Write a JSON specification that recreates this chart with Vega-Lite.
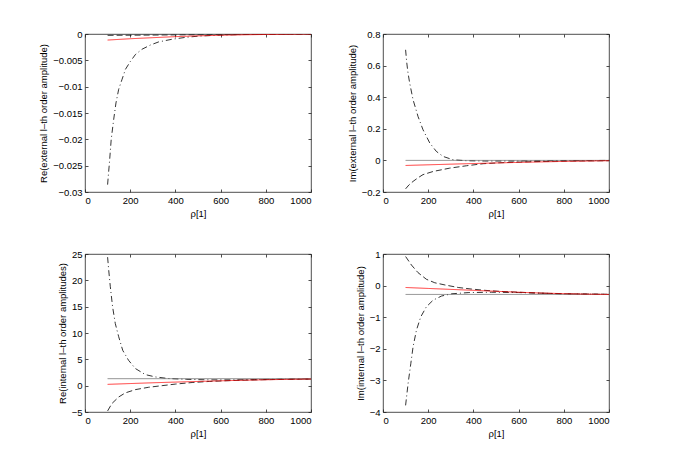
{
 "$schema": "https://vega.github.io/schema/vega-lite/v6.json",
 "background": "white",
 "padding": {"left": 38, "top": 28, "right": 0, "bottom": 0},
 "columns": 2,
 "spacing": {"row": 62, "column": 72},
 "bounds": "flush",
 "datasets": {
  "p1": [
   {"s":"dd","x":100,"y":-0.0286},{"s":"dd","x":104,"y":-0.0265},{"s":"dd","x":108,"y":-0.0245},{"s":"dd","x":116,"y":-0.0200},{"s":"dd","x":127,"y":-0.0162},{"s":"dd","x":137,"y":-0.0131},{"s":"dd","x":149,"y":-0.0105},{"s":"dd","x":164,"y":-0.0086},{"s":"dd","x":179,"y":-0.0067},{"s":"dd","x":201,"y":-0.0052},{"s":"dd","x":223,"y":-0.0039},{"s":"dd","x":252,"y":-0.0029},{"s":"dd","x":289,"y":-0.0021},{"s":"dd","x":326,"y":-0.0015},{"s":"dd","x":385,"y":-0.0010},{"s":"dd","x":443,"y":-0.00065},{"s":"dd","x":503,"y":-0.0004},{"s":"dd","x":600,"y":-0.0002},{"s":"dd","x":700,"y":-0.0001},{"s":"dd","x":850,"y":-0.00004},{"s":"dd","x":1000,"y":0},
   {"s":"d","x":100,"y":-0.00025},{"s":"d","x":300,"y":-0.0002},{"s":"d","x":500,"y":-0.00013},{"s":"d","x":700,"y":-0.00008},{"s":"d","x":1000,"y":-0.00003},
   {"s":"s","x":100,"y":0},{"s":"s","x":1000,"y":0},
   {"s":"r","x":100,"y":-0.00115},{"s":"r","x":200,"y":-0.0009},{"s":"r","x":300,"y":-0.0007},{"s":"r","x":400,"y":-0.0005},{"s":"r","x":500,"y":-0.00035},{"s":"r","x":600,"y":-0.00024},{"s":"r","x":700,"y":-0.00015},{"s":"r","x":800,"y":-0.00009},{"s":"r","x":900,"y":-0.00004},{"s":"r","x":1000,"y":-0.00001}
  ],
  "p2": [
   {"s":"dd","x":100,"y":0.70},{"s":"dd","x":105,"y":0.62},{"s":"dd","x":110,"y":0.56},{"s":"dd","x":118,"y":0.49},{"s":"dd","x":133,"y":0.384},{"s":"dd","x":155,"y":0.278},{"s":"dd","x":177,"y":0.194},{"s":"dd","x":207,"y":0.11},{"s":"dd","x":236,"y":0.057},{"s":"dd","x":266,"y":0.025},{"s":"dd","x":310,"y":0.004},{"s":"dd","x":369,"y":-0.002},{"s":"dd","x":450,"y":-0.004},{"s":"dd","x":600,"y":-0.004},{"s":"dd","x":800,"y":-0.002},{"s":"dd","x":1000,"y":0},
   {"s":"d","x":100,"y":-0.18},{"s":"d","x":115,"y":-0.155},{"s":"d","x":133,"y":-0.133},{"s":"d","x":155,"y":-0.11},{"s":"d","x":177,"y":-0.09},{"s":"d","x":222,"y":-0.07},{"s":"d","x":295,"y":-0.049},{"s":"d","x":369,"y":-0.034},{"s":"d","x":443,"y":-0.021},{"s":"d","x":517,"y":-0.015},{"s":"d","x":665,"y":-0.008},{"s":"d","x":812,"y":-0.004},{"s":"d","x":1000,"y":-0.002},
   {"s":"s","x":100,"y":0},{"s":"s","x":1000,"y":0},
   {"s":"r","x":100,"y":-0.032},{"s":"r","x":369,"y":-0.021},{"s":"r","x":590,"y":-0.013},{"s":"r","x":812,"y":-0.006},{"s":"r","x":1000,"y":-0.002}
  ],
  "p3": [
   {"s":"dd","x":100,"y":24.4},{"s":"dd","x":105,"y":21.9},{"s":"dd","x":112,"y":18.8},{"s":"dd","x":122,"y":15.0},{"s":"dd","x":134,"y":11.8},{"s":"dd","x":149,"y":9.3},{"s":"dd","x":167,"y":6.7},{"s":"dd","x":193,"y":4.8},{"s":"dd","x":223,"y":3.25},{"s":"dd","x":267,"y":2.1},{"s":"dd","x":311,"y":1.66},{"s":"dd","x":370,"y":1.35},{"s":"dd","x":450,"y":1.2},{"s":"dd","x":550,"y":1.1},{"s":"dd","x":650,"y":1.1},{"s":"dd","x":750,"y":1.15},{"s":"dd","x":850,"y":1.22},{"s":"dd","x":1000,"y":1.28},
   {"s":"d","x":100,"y":-4.8},{"s":"d","x":119,"y":-3.4},{"s":"d","x":149,"y":-2.15},{"s":"d","x":178,"y":-1.38},{"s":"d","x":223,"y":-0.75},{"s":"d","x":282,"y":-0.3},{"s":"d","x":341,"y":0.0},{"s":"d","x":400,"y":0.3},{"s":"d","x":474,"y":0.6},{"s":"d","x":550,"y":0.8},{"s":"d","x":650,"y":0.98},{"s":"d","x":750,"y":1.1},{"s":"d","x":850,"y":1.18},{"s":"d","x":1000,"y":1.25},
   {"s":"s","x":100,"y":1.33},{"s":"s","x":1000,"y":1.33},
   {"s":"r","x":100,"y":0.25},{"s":"r","x":200,"y":0.4},{"s":"r","x":300,"y":0.55},{"s":"r","x":400,"y":0.68},{"s":"r","x":500,"y":0.8},{"s":"r","x":600,"y":0.92},{"s":"r","x":700,"y":1.03},{"s":"r","x":800,"y":1.12},{"s":"r","x":900,"y":1.2},{"s":"r","x":1000,"y":1.26}
  ],
  "p4": [
   {"s":"dd","x":100,"y":-3.79},{"s":"dd","x":111,"y":-3.10},{"s":"dd","x":123,"y":-2.47},{"s":"dd","x":133,"y":-1.94},{"s":"dd","x":148,"y":-1.41},{"s":"dd","x":167,"y":-0.99},{"s":"dd","x":192,"y":-0.67},{"s":"dd","x":222,"y":-0.46},{"s":"dd","x":259,"y":-0.33},{"s":"dd","x":303,"y":-0.26},{"s":"dd","x":380,"y":-0.22},{"s":"dd","x":480,"y":-0.21},{"s":"dd","x":600,"y":-0.22},{"s":"dd","x":700,"y":-0.24},{"s":"dd","x":800,"y":-0.26},{"s":"dd","x":1000,"y":-0.28},
   {"s":"d","x":100,"y":0.92},{"s":"d","x":126,"y":0.65},{"s":"d","x":155,"y":0.41},{"s":"d","x":192,"y":0.2},{"s":"d","x":229,"y":0.09},{"s":"d","x":274,"y":0.02},{"s":"d","x":333,"y":-0.06},{"s":"d","x":392,"y":-0.11},{"s":"d","x":451,"y":-0.15},{"s":"d","x":510,"y":-0.18},{"s":"d","x":600,"y":-0.21},{"s":"d","x":700,"y":-0.24},{"s":"d","x":800,"y":-0.26},{"s":"d","x":1000,"y":-0.275},
   {"s":"s","x":100,"y":-0.28},{"s":"s","x":1000,"y":-0.28},
   {"s":"r","x":100,"y":-0.06},{"s":"r","x":200,"y":-0.09},{"s":"r","x":300,"y":-0.12},{"s":"r","x":400,"y":-0.15},{"s":"r","x":500,"y":-0.18},{"s":"r","x":600,"y":-0.21},{"s":"r","x":700,"y":-0.235},{"s":"r","x":800,"y":-0.255},{"s":"r","x":900,"y":-0.27},{"s":"r","x":1000,"y":-0.28}
  ]
 },
 "concat": [
  {
   "width": 226, "height": 158,
   "data": {"name": "p1"},
   "resolve": {"axis": {"x": "independent", "y": "independent"}},
   "layer": [
    {
     "mark": {"type": "line", "strokeWidth": 0.8, "clip": true},
     "encoding": {
      "x": {"field": "x", "type": "quantitative", "scale": {"domain": [0, 1000], "nice": false}, "axis": {"values": [0,200,400,600,800,1000], "title": "ρ[1]"}},
      "y": {"field": "y", "type": "quantitative", "scale": {"domain": [-0.03, 0], "nice": false, "zero": false}, "axis": {"values": [-0.03,-0.025,-0.02,-0.015,-0.01,-0.005,0], "title": "Re(external l–th order amplitude)"}},
      "color": {"field": "s", "type": "nominal", "scale": {"domain": ["dd","d","s","r"], "range": ["#000000","#000000","#666666","#ff0000"]}, "legend": null},
      "strokeDash": {"field": "s", "type": "nominal", "scale": {"domain": ["dd","d","s","r"], "range": [[6,3,1,3],[6,3],[1,0],[1,0]]}, "legend": null}
     }
    },
    {
     "mark": {"type": "line", "opacity": 0},
     "encoding": {
      "x": {"field": "x", "type": "quantitative", "axis": {"orient": "top", "values": [0,200,400,600,800,1000], "labels": false, "title": null}},
      "y": {"field": "y", "type": "quantitative", "axis": {"orient": "right", "values": [-0.03,-0.025,-0.02,-0.015,-0.01,-0.005,0], "labels": false, "title": null}},
      "detail": {"field": "s"}
     }
    }
   ]
  },
  {
   "width": 226, "height": 158,
   "data": {"name": "p2"},
   "resolve": {"axis": {"x": "independent", "y": "independent"}},
   "layer": [
    {
     "mark": {"type": "line", "strokeWidth": 0.8, "clip": true},
     "encoding": {
      "x": {"field": "x", "type": "quantitative", "scale": {"domain": [0, 1000], "nice": false}, "axis": {"values": [0,200,400,600,800,1000], "title": "ρ[1]"}},
      "y": {"field": "y", "type": "quantitative", "scale": {"domain": [-0.2, 0.8], "nice": false, "zero": false}, "axis": {"values": [-0.2,0,0.2,0.4,0.6,0.8], "title": "Im(external l–th order amplitude)"}},
      "color": {"field": "s", "type": "nominal", "scale": {"domain": ["dd","d","s","r"], "range": ["#000000","#000000","#666666","#ff0000"]}, "legend": null},
      "strokeDash": {"field": "s", "type": "nominal", "scale": {"domain": ["dd","d","s","r"], "range": [[6,3,1,3],[6,3],[1,0],[1,0]]}, "legend": null}
     }
    },
    {
     "mark": {"type": "line", "opacity": 0},
     "encoding": {
      "x": {"field": "x", "type": "quantitative", "axis": {"orient": "top", "values": [0,200,400,600,800,1000], "labels": false, "title": null}},
      "y": {"field": "y", "type": "quantitative", "axis": {"orient": "right", "values": [-0.2,0,0.2,0.4,0.6,0.8], "labels": false, "title": null}},
      "detail": {"field": "s"}
     }
    }
   ]
  },
  {
   "width": 226, "height": 158,
   "data": {"name": "p3"},
   "resolve": {"axis": {"x": "independent", "y": "independent"}},
   "layer": [
    {
     "mark": {"type": "line", "strokeWidth": 0.8, "clip": true},
     "encoding": {
      "x": {"field": "x", "type": "quantitative", "scale": {"domain": [0, 1000], "nice": false}, "axis": {"values": [0,200,400,600,800,1000], "title": "ρ[1]"}},
      "y": {"field": "y", "type": "quantitative", "scale": {"domain": [-5, 25], "nice": false, "zero": false}, "axis": {"values": [-5,0,5,10,15,20,25], "title": "Re(internal l–th order amplitudes)"}},
      "color": {"field": "s", "type": "nominal", "scale": {"domain": ["dd","d","s","r"], "range": ["#000000","#000000","#666666","#ff0000"]}, "legend": null},
      "strokeDash": {"field": "s", "type": "nominal", "scale": {"domain": ["dd","d","s","r"], "range": [[6,3,1,3],[6,3],[1,0],[1,0]]}, "legend": null}
     }
    },
    {
     "mark": {"type": "line", "opacity": 0},
     "encoding": {
      "x": {"field": "x", "type": "quantitative", "axis": {"orient": "top", "values": [0,200,400,600,800,1000], "labels": false, "title": null}},
      "y": {"field": "y", "type": "quantitative", "axis": {"orient": "right", "values": [-5,0,5,10,15,20,25], "labels": false, "title": null}},
      "detail": {"field": "s"}
     }
    }
   ]
  },
  {
   "width": 226, "height": 158,
   "data": {"name": "p4"},
   "resolve": {"axis": {"x": "independent", "y": "independent"}},
   "layer": [
    {
     "mark": {"type": "line", "strokeWidth": 0.8, "clip": true},
     "encoding": {
      "x": {"field": "x", "type": "quantitative", "scale": {"domain": [0, 1000], "nice": false}, "axis": {"values": [0,200,400,600,800,1000], "title": "ρ[1]"}},
      "y": {"field": "y", "type": "quantitative", "scale": {"domain": [-4, 1], "nice": false, "zero": false}, "axis": {"values": [-4,-3,-2,-1,0,1], "title": "Im(internal l–th order amplitude)"}},
      "color": {"field": "s", "type": "nominal", "scale": {"domain": ["dd","d","s","r"], "range": ["#000000","#000000","#222222","#ff0000"]}, "legend": null},
      "strokeDash": {"field": "s", "type": "nominal", "scale": {"domain": ["dd","d","s","r"], "range": [[6,3,1,3],[6,3],[1,0],[1,0]]}, "legend": null}
     }
    },
    {
     "mark": {"type": "line", "opacity": 0},
     "encoding": {
      "x": {"field": "x", "type": "quantitative", "axis": {"orient": "top", "values": [0,200,400,600,800,1000], "labels": false, "title": null}},
      "y": {"field": "y", "type": "quantitative", "axis": {"orient": "right", "values": [-4,-3,-2,-1,0,1], "labels": false, "title": null}},
      "detail": {"field": "s"}
     }
    }
   ]
  }
 ],
 "config": {
  "font": "Liberation Sans",
  "view": {"stroke": "#222222", "strokeWidth": 0.8},
  "axis": {
   "grid": false,
   "domain": false,
   "format": "~r",
   "labelFont": "Liberation Sans",
   "labelFontSize": 9.5,
   "labelColor": "#000000",
   "titleFont": "Liberation Sans",
   "titleFontSize": 9.5,
   "titleFontWeight": "normal",
   "titleColor": "#000000",
   "tickColor": "#222222",
   "tickWidth": 0.8,
   "tickSize": -3,
   "labelPadding": 6,
   "titlePadding": 4
  }
 }
}
